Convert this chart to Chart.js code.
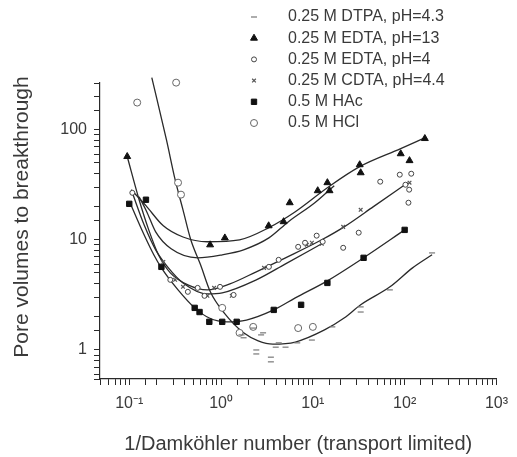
<!DOCTYPE html>
<html>
<head>
<meta charset="utf-8">
<script src="https://cdn.jsdelivr.net/npm/chart.js@4.4.1/dist/chart.umd.min.js"></script>
<style>
  html, body { margin: 0; padding: 0; background: #fff; }
  #wrap { width: 517px; height: 457px; }
</style>
</head>
<body>
<div id="wrap"><canvas id="chart" width="517" height="457"></canvas></div>
<script>
const dtpaX = [1.67, 1.76, 2.24, 2.42, 2.42, 2.73, 2.87, 3.49, 3.49, 3.94, 4.25, 5.04, 6.76, 9.76, 16.3, 33.2, 33.2, 69, 199];
const dtpaY = [1.37, 1.29, 1.58, 1.0, 0.92, 1.37, 1.43, 0.86, 0.78, 1.06, 1.16, 1.06, 1.16, 1.23, 1.62, 2.46, 2.21, 3.51, 7.6];

const edta13X = [0.095, 0.76, 1.1, 3.3, 4.8, 5.6, 11.3, 14.4, 15.2, 32.4, 33.2, 90.6, 113, 166];
const edta13Y = [57, 9.0, 10.4, 13.4, 14.6, 21.7, 27.9, 33, 27.9, 48, 40.6, 60.4, 52.3, 83];

const edta4X = [0.108, 0.28, 0.435, 0.556, 0.66, 0.975, 1.37, 3.32, 4.24, 6.92, 8.22, 11.0, 12.8, 21.4, 31.6, 54.2, 88.5, 102, 112, 110, 118];
const edta4Y = [26.7, 4.33, 3.37, 3.66, 3.1, 3.74, 3.16, 5.68, 6.58, 8.63, 9.4, 10.9, 9.6, 8.46, 11.6, 33.7, 39, 31.6, 28.5, 21.7, 39.8];

const cdtaX = [0.235, 0.316, 0.385, 0.71, 0.84, 1.31, 2.94, 8.6, 9.76, 12.5, 21.4, 33.2, 113];
const cdtaY = [6.3, 4.33, 3.74, 3.1, 3.66, 3.1, 5.56, 9.0, 9.4, 9.2, 13.1, 18.7, 33];

const haCX = [0.1, 0.152, 0.224, 0.516, 0.583, 0.745, 1.03, 1.48, 3.75, 7.45, 14.4, 35.7, 100];
const haCY = [21.2, 23.1, 5.68, 2.41, 2.21, 1.8, 1.8, 1.8, 2.31, 2.57, 4.06, 6.86, 12.3];

const hclX = [0.122, 0.324, 0.34, 0.366, 1.03, 1.59, 2.24, 6.92, 10];
const hclY = [176, 267, 33, 25.7, 2.41, 1.43, 1.62, 1.58, 1.62];

// fitted curves (solid lines), also
const fitAX = [0.105, 0.152, 0.235, 0.385, 0.71, 1.59, 3.32, 6.44, 14.4, 32.4, 90.6, 167];
const fitAY = [28.5, 20.4, 13.4, 10.6, 9.6, 10, 12.9, 18, 29.7, 46.1, 67.2, 84.6];
const fitBX = [0.128, 0.155, 0.194, 0.286, 0.556, 1.03, 1.76, 3.32, 5.42, 10.5, 17.1];
const fitBY = [24.6, 18, 11.8, 8.28, 6.86, 7.31, 8.11, 10.4, 14.6, 21.7, 31];
const fitC1X = [0.095, 0.128, 0.163, 0.208, 0.28, 0.435, 0.71, 1.25, 2.42, 5.04, 12.5, 21.9, 45.7, 108];
const fitC1Y = [57, 23.1, 12.3, 7.31, 5.01, 3.9, 3.51, 3.98, 5.12, 6.86, 10, 13.1, 20, 33];
const fitC2X = [0.108, 0.145, 0.194, 0.267, 0.385, 0.71, 1.03, 2.42, 5.04, 12.5];
const fitC2Y = [26.7, 13.7, 8.11, 5.56, 4.06, 3.23, 3.3, 4.33, 6.05, 9.2];
const fitDX = [0.103, 0.145, 0.185, 0.224, 0.34, 0.516, 0.745, 1.16, 1.89, 3.75, 6.44, 14.4, 35.7, 100];
const fitDY = [21.2, 11.1, 7.31, 5.56, 3.51, 2.41, 1.95, 1.8, 1.87, 2.31, 2.97, 4.24, 6.86, 12.3];
const fitEX = [0.176, 0.254, 0.316, 0.385, 0.468, 0.598, 0.764, 1.08, 1.76, 2.54, 3.66, 6.44, 13.4, 21.9, 33.2, 69.2, 122, 199];
const fitEY = [297, 81, 35.1, 18.7, 10, 5.93, 3.37, 2.17, 1.43, 1.21, 1.13, 1.18, 1.52, 1.95, 2.57, 3.74, 5.56, 7.31];

const legendLabels = ['0.25 M DTPA, pH=4.3', '0.25 M EDTA, pH=13', '0.25 M EDTA, pH=4', '0.25 M CDTA, pH=4.4', '0.5 M HAc', '0.5 M HCl'];
const xTickLabels = { '-1': '10\u207B\u00B9', '0': '10\u2070', '1': '10\u00B9', '2': '10\u00B2', '3': '10\u00B3' };
const yTickLabels = { '0': '1', '1': '10', '2': '100' };

const FONT = '"Liberation Sans", Arial, sans-serif';
const TEXT = '#3a3a3a';
const INK = '#2a2a2a';

function pts(xs, ys) { return xs.map((x, i) => ({ x, y: ys[i] })); }
function powLabel(map, v) {
  const l = Math.log10(v);
  const r = Math.round(l);
  return Math.abs(l - r) < 1e-6 && map[r] !== undefined ? map[r] : '';
}

function pointSet(label, xs, ys, style) {
  return Object.assign({ label, data: pts(xs, ys), showLine: false, clip: false }, style);
}
function fitSet(xs, ys) {
  return {
    label: '', data: pts(xs, ys), showLine: true, pointRadius: 0, borderColor: INK,
    borderWidth: 1.3, cubicInterpolationMode: 'monotone', clip: false
  };
}

const datasets = [
  pointSet(legendLabels[0], dtpaX, dtpaY, { pointStyle: 'line', pointRadius: 3, pointBorderColor: '#777', pointBackgroundColor: '#777', pointBorderWidth: 1.2 }),
  pointSet(legendLabels[1], edta13X, edta13Y, { pointStyle: 'triangle', pointRadius: 4, pointBorderColor: '#111', pointBackgroundColor: '#111', pointBorderWidth: 1 }),
  pointSet(legendLabels[2], edta4X, edta4Y, { pointStyle: 'circle', pointRadius: 2.5, pointBorderColor: '#444', pointBackgroundColor: '#fff', pointBorderWidth: 1 }),
  pointSet(legendLabels[3], cdtaX, cdtaY, { pointStyle: 'crossRot', pointRadius: 2.6, pointBorderColor: '#555', pointBackgroundColor: '#555', pointBorderWidth: 1.2 }),
  pointSet(legendLabels[4], haCX, haCY, { pointStyle: 'rect', pointRadius: 3.8, pointBorderColor: '#111', pointBackgroundColor: '#111', pointBorderWidth: 1 }),
  pointSet(legendLabels[5], hclX, hclY, { pointStyle: 'circle', pointRadius: 3.5, pointBorderColor: '#666', pointBackgroundColor: '#fff', pointBorderWidth: 1 }),
  fitSet(fitAX, fitAY),
  fitSet(fitBX, fitBY),
  fitSet(fitC1X, fitC1Y),
  fitSet(fitC2X, fitC2Y),
  fitSet(fitDX, fitDY),
  fitSet(fitEX, fitEY)
];

const legendPlugin = {
  id: 'figLegend',
  afterDraw(chart) {
    const ctx = chart.ctx;
    ctx.save();
    ctx.font = '16px ' + FONT;
    ctx.textBaseline = 'middle';
    legendLabels.forEach((label, i) => {
      const ds = chart.data.datasets[i];
      const y = 17 + i * 21.2;
      ctx.fillStyle = ds.pointBackgroundColor;
      ctx.strokeStyle = ds.pointBorderColor;
      ctx.lineWidth = ds.pointBorderWidth;
      Chart.helpers.drawPoint(ctx, { pointStyle: ds.pointStyle, radius: ds.pointRadius, borderWidth: ds.pointBorderWidth, rotation: 0 }, 254, y);
      ctx.fillStyle = TEXT;
      ctx.fillText(label, 288, y);
    });
    ctx.restore();
  }
};

const yTitlePlugin = {
  id: 'yTitle',
  afterDraw(chart) {
    const ctx = chart.ctx;
    ctx.save();
    ctx.translate(22, 217);
    ctx.rotate(-Math.PI / 2);
    ctx.font = '21px ' + FONT;
    ctx.fillStyle = TEXT;
    ctx.textAlign = 'center';
    ctx.textBaseline = 'middle';
    ctx.fillText('Pore volumes to breakthrough', 0, 0);
    ctx.restore();
  }
};

new Chart(document.getElementById('chart'), {
  type: 'scatter',
  data: { datasets },
  options: {
    responsive: false,
    animation: false,
    events: [],
    layout: { padding: { left: 0, right: 12, top: 83, bottom: 0 } },
    plugins: { legend: { display: false }, tooltip: { enabled: false } },
    scales: {
      x: {
        type: 'logarithmic', position: 'bottom', min: 0.048, max: 1000,
        border: { display: true, color: INK, width: 1.2 },
        grid: { drawOnChartArea: false, drawTicks: true, tickLength: 6, tickColor: INK },
        ticks: {
          autoSkip: false, maxRotation: 0, padding: 9, color: TEXT,
          font: { family: FONT, size: 16 },
          callback: v => powLabel(xTickLabels, v)
        },
        title: {
          display: true, text: '1/Damk\u00F6hler number (transport limited)', color: TEXT,
          font: { family: FONT, size: 20 }, padding: { top: 0, bottom: 1 }
        },
        afterFit: s => { s.height = 78; }
      },
      y: {
        type: 'logarithmic', position: 'left', min: 0.545, max: 265,
        border: { display: true, color: INK, width: 1.2 },
        grid: { drawOnChartArea: false, drawTicks: true, tickLength: 6, tickColor: INK },
        ticks: {
          autoSkip: false, padding: 7, color: TEXT,
          font: { family: FONT, size: 16 },
          callback: v => powLabel(yTickLabels, v)
        },
        afterFit: s => { s.width = 100; }
      }
    }
  },
  plugins: [legendPlugin, yTitlePlugin]
});
</script>
</body>
</html>
